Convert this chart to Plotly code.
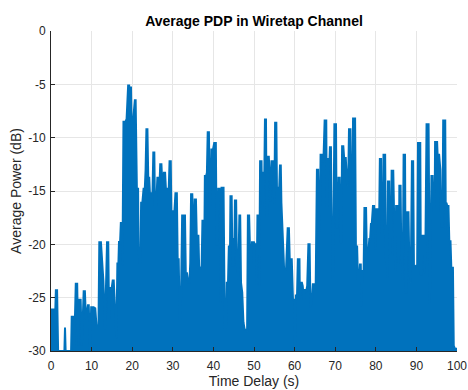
import plotly.graph_objects as go

# Average power-delay profile of the wiretap channel (outline of the dense trace)
delay_s = [
    0.0, 0.1, 0.7, 0.85, 1.2, 1.5, 1.75, 3.3, 3.45, 3.6, 4.95, 5.1, 5.45, 5.7,
    6.1, 6.45, 6.7, 7.0, 7.3, 7.6, 8.05, 8.35, 8.6, 9.1, 9.3, 9.6, 9.9, 10.5,
    10.9, 11.2, 11.7, 11.9, 12.3, 12.5, 12.9, 13.3, 13.8, 14.1, 14.3, 14.7,
    14.95, 15.2, 15.45, 15.8, 16.1, 16.35, 16.6, 16.75, 17.0,
    17.2, 17.45, 17.6, 17.85, 18.1, 18.25, 18.45, 18.6, 19.0, 19.25, 19.4,
    19.5, 19.7, 19.85, 20.2, 20.5, 20.65, 20.85, 21.0, 21.15, 21.45, 21.55,
    21.8, 22.0, 22.2, 22.5, 22.8, 23.1, 23.3, 23.5, 23.75, 23.95, 24.2, 24.4,
    24.6, 24.8, 25.0, 25.2, 25.45, 25.6, 25.9, 26.2, 26.5, 26.7, 26.9, 27.2,
    27.4, 27.6, 27.8, 28.1, 28.3, 29.0, 29.2, 29.5, 29.7, 29.95, 30.1, 30.4,
    30.65, 31.0, 31.2, 31.45, 31.7, 31.95, 32.3, 32.6, 33.0,
    33.2, 33.5, 33.8, 34.1, 34.3, 34.5, 34.8, 35.0, 35.3, 35.4, 35.7, 35.9,
    36.3, 36.5, 36.9, 37.1, 37.3, 37.6, 37.8, 37.9, 38.2, 38.4, 38.6, 38.9,
    39.1, 39.3, 39.5, 39.9, 40.2, 40.6, 40.8, 41.0, 41.2, 41.5, 41.7, 41.8,
    42.0, 42.5, 42.8, 43.1, 43.3, 43.6, 43.8, 44.1, 44.2, 44.5, 44.7, 44.9,
    45.0, 45.2, 45.3, 45.6, 45.8, 46.1, 46.4, 46.6, 46.8, 47.1, 47.4, 47.7,
    48.0, 48.3, 48.5, 48.8, 49.1, 49.3, 49.5, 50.0, 50.2, 50.5, 50.65, 50.85,
    51.15, 51.3, 51.5, 51.85, 52.0, 52.2, 52.3, 52.55, 52.7, 52.95, 53.1,
    53.3, 53.4, 53.65, 53.8, 54.0, 54.1, 54.3, 54.65, 54.85, 55.0, 55.2,
    55.5, 55.65, 55.85, 56.0, 56.2, 56.4, 56.6, 56.75, 57.0, 57.4, 57.9,
    58.3, 58.6, 58.8, 59.3, 59.6, 59.9, 60.1, 60.3, 60.6, 60.8, 61.2, 61.3,
    61.5, 61.8, 62.0, 62.3, 62.5, 62.8, 63.1, 63.4, 63.7, 63.9, 64.2, 64.5,
    64.9, 65.2, 65.5, 65.8, 66.0, 66.2, 66.4, 66.7, 66.9, 67.1, 67.4, 67.8,
    67.9, 68.1, 68.3, 68.6, 68.7, 68.95, 69.1, 69.3, 69.45, 69.8, 70.2,
    70.35, 70.6, 70.8, 71.1, 71.3, 71.5, 71.7, 72.0, 72.2, 72.6, 72.8, 72.95,
    73.1, 73.25, 73.4, 73.75, 73.9, 74.2, 74.4, 74.9, 75.1, 75.4, 75.6, 75.9,
    76.1, 76.3, 76.45, 76.7, 77.0, 77.2, 77.6, 77.8, 78.1, 78.4, 78.6, 78.8,
    79.0, 79.3, 79.6, 79.8, 79.95, 80.1, 80.5, 80.6, 80.8, 81.0, 81.3, 81.4,
    81.7, 81.9, 82.3, 82.5, 82.7, 82.85, 83.0, 83.3, 83.5, 83.7, 83.9, 84.3,
    84.45, 84.6, 84.8, 85.0, 85.3, 85.5, 85.7, 85.8, 86.1, 86.3, 86.5, 86.65,
    86.85, 87.2, 87.35, 87.6, 87.75, 88.05, 88.3, 88.6, 88.9, 89.2, 89.4,
    89.9, 90.2, 90.4, 90.95, 91.1, 91.3, 91.5, 91.8, 92.0, 92.2, 92.5, 93.0,
    93.15, 93.3, 93.5, 93.7, 94.0, 94.2, 94.5, 94.6, 95.1, 95.25, 95.4, 95.6,
    95.75, 95.9, 96.1, 96.4, 96.6, 97.1, 97.25, 97.4, 97.6, 97.9, 98.1, 98.4,
    98.6, 99.0, 99.2, 99.5, 100.0,
]

power_db = [
    -30.0, -26.1, -26.1, -29.0, -24.3, -24.3, -30.0, -30.0, -27.8, -30.0, -30.0, -26.8, -26.8, -30.0,
    -23.7, -23.7, -29.5, -25.2, -25.2, -29.5, -24.4, -24.4, -27.0, -25.7, -25.7, -30.0, -25.9, -25.9,
    -26.0, -27.6, -27.6, -19.8, -19.8, -21.2, -23.4, -28.0, -19.8, -19.8, -27.0, -24.1,
    -24.1, -23.4, -23.4, -26.3, -28.8, -21.8, -21.8, -19.7, -20.0,
    -18.0, -18.0, -22.0, -8.5, -8.5, -10.3, -8.4, -8.4, -5.1, -5.1, -6.0,
    -5.3, -5.3, -8.9, -8.5, -7.5, -6.5, -6.5, -9.8, -14.8, -14.8, -20.2,
    -21.7, -21.7, -16.1, -16.1, -14.8, -14.8, -13.0, -9.2, -9.2, -13.75, -13.75, -15.6,
    -15.6, -15.2, -15.2, -11.4, -11.4, -16.4, -16.4, -13.75, -13.75, -14.8, -12.5, -12.5,
    -14.2, -14.2, -13.3, -13.3, -14.8, -14.8, -12.2, -12.2, -18.9, -18.9, -16.9, -16.9,
    -15.2, -15.2, -21.4, -21.4, -27.0, -27.0, -17.3, -17.3, -17.3,
    -22.7, -22.7, -23.6, -23.6, -21.7, -15.3, -15.3, -17.8, -17.8, -15.8, -15.8, -19.2,
    -19.2, -22.3, -22.3, -22.0, -17.8, -17.8, -18.3, -13.6, -13.6, -13.3, -9.5, -9.5,
    -16.4, -16.4, -11.1, -11.1, -10.5, -10.5, -20.0, -20.0, -14.8, -14.8, -15.8, -25.5,
    -14.7, -14.7, -27.8, -27.8, -23.6, -23.6, -20.2, -20.2, -15.5, -15.5, -22.0, -22.0,
    -19.5, -19.5, -15.9, -15.9, -22.0, -23.3, -17.3, -17.3, -23.6, -24.5, -27.3, -28.0,
    -28.0, -28.2, -17.3, -17.3, -21.7, -21.7, -19.8, -19.8, -20.0, -20.0, -23.9, -17.3,
    -17.3, -23.9, -12.2, -12.2, -16.4, -16.4, -13.3, -13.3, -8.3, -8.3, -17.3,
    -17.3, -11.8, -11.8, -13.0, -13.0, -16.0, -12.2, -12.2, -16.3, -16.3, -8.6,
    -8.6, -14.7, -14.7, -14.9, -14.9, -12.6, -12.6, -16.1, -19.1, -22.2, -22.3,
    -18.5, -18.5, -21.4, -21.4, -25.2, -25.2, -30.0, -24.8, -24.8, -21.4, -21.4, -25.2,
    -23.6, -23.6, -23.9, -25.2, -24.2, -24.5, -23.9, -20.0, -20.0, -25.9, -25.5, -23.75,
    -23.75, -23.75, -13.0, -13.0, -18.9, -18.9, -11.6, -11.6, -12.2, -12.2, -8.4, -8.4,
    -16.4, -16.4, -12.0, -12.0, -10.9, -10.9, -17.5, -17.5, -23.3, -8.75, -8.75,
    -18.4, -18.4, -13.75, -13.75, -19.8, -19.8, -10.8, -10.8, -11.9, -11.9, -14.5, -14.5,
    -13.0, -13.0, -9.2, -9.2, -15.2, -15.2, -8.2, -8.2, -20.2, -20.2, -23.3, -23.3,
    -21.9, -21.9, -25.8, -22.5, -22.5, -16.6, -16.6, -21.1, -21.1, -19.5, -19.5, -18.1,
    -18.1, -16.4, -16.4, -20.5, -20.5, -16.7, -16.7, -18.6, -18.6, -12.0, -12.0, -18.9,
    -18.9, -11.6, -11.6, -21.4, -21.4, -23.1, -14.1, -14.1, -20.9, -20.9, -13.1, -13.1,
    -19.1, -19.1, -22.5, -16.4, -16.4, -21.7, -21.7, -14.5, -14.5, -21.4, -21.4, -23.3,
    -11.6, -11.6, -24.5, -24.5, -17.0, -17.0, -22.7, -23.6, -12.2, -12.2, -22.3,
    -22.0, -22.0, -10.5, -10.5, -22.8, -22.8, -19.2, -19.2, -22.7, -21.1, -8.75, -8.75,
    -21.4, -25.6, -20.8, -13.6, -13.6, -16.4, -16.4, -10.4, -10.4, -11.9, -11.6, -11.6,
    -13.0, -13.0, -18.3, -18.3, -8.4, -8.4, -18.6, -16.1, -16.4, -16.4, -19.7, -19.7,
    -22.2, -22.2, -29.5, -29.8, -29.8,
]

x_ticks = list(range(0, 101, 10))
y_ticks = [0, -5, -10, -15, -20, -25, -30]
y_floor = min(y_ticks)

blue = "#0072BD"
ink = "#262626"
grid = "#e6e6e6"
font_family = "Liberation Sans, Arial, sans-serif"

fig = go.Figure()

# floor of the axis, used as the lower edge of the filled trace
fig.add_trace(go.Scatter(
    x=[delay_s[0], delay_s[-1]], y=[y_floor, y_floor],
    mode="lines", line=dict(width=0, color=blue),
    hoverinfo="skip", showlegend=False,
))

fig.add_trace(go.Scatter(
    x=delay_s, y=power_db,
    mode="lines", line=dict(color=blue, width=2),
    fill="tonexty", fillcolor=blue,
    showlegend=False,
))

axis_common = dict(
    showgrid=True, gridcolor=grid, gridwidth=1,
    showline=True, linecolor=ink, linewidth=1,
    ticks="inside", ticklen=4, tickcolor=ink, tickwidth=1,
    tickfont=dict(family=font_family, size=12, color=ink),
    zeroline=False, mirror=False, automargin=False,
)

fig.update_layout(
    width=468, height=390,
    margin=dict(l=51, r=11, t=31, b=39),
    paper_bgcolor="white", plot_bgcolor="white",
    title=dict(
        text="<b>Average PDP in Wiretap Channel</b>",
        font=dict(family=font_family, size=14, color="black"),
        x=0.5, xref="paper", xanchor="center",
        y=1 - 21 / 390, yref="container", yanchor="middle",
    ),
    xaxis=dict(
        range=[0, 100], tickvals=x_ticks,
        ticktext=[str(v) for v in x_ticks],
        ticklabelstandoff=4,
        title=dict(text="Time Delay (s)", standoff=3,
                   font=dict(family=font_family, size=14, color=ink)),
        **axis_common,
    ),
    yaxis=dict(
        range=[y_floor, 0], tickvals=y_ticks,
        ticktext=[str(v) for v in y_ticks],
        ticklabelstandoff=2,
        title=dict(text="Average Power (dB)", standoff=3,
                   font=dict(family=font_family, size=14, color=ink)),
        **axis_common,
    ),
)

fig.write_html("out.html")
